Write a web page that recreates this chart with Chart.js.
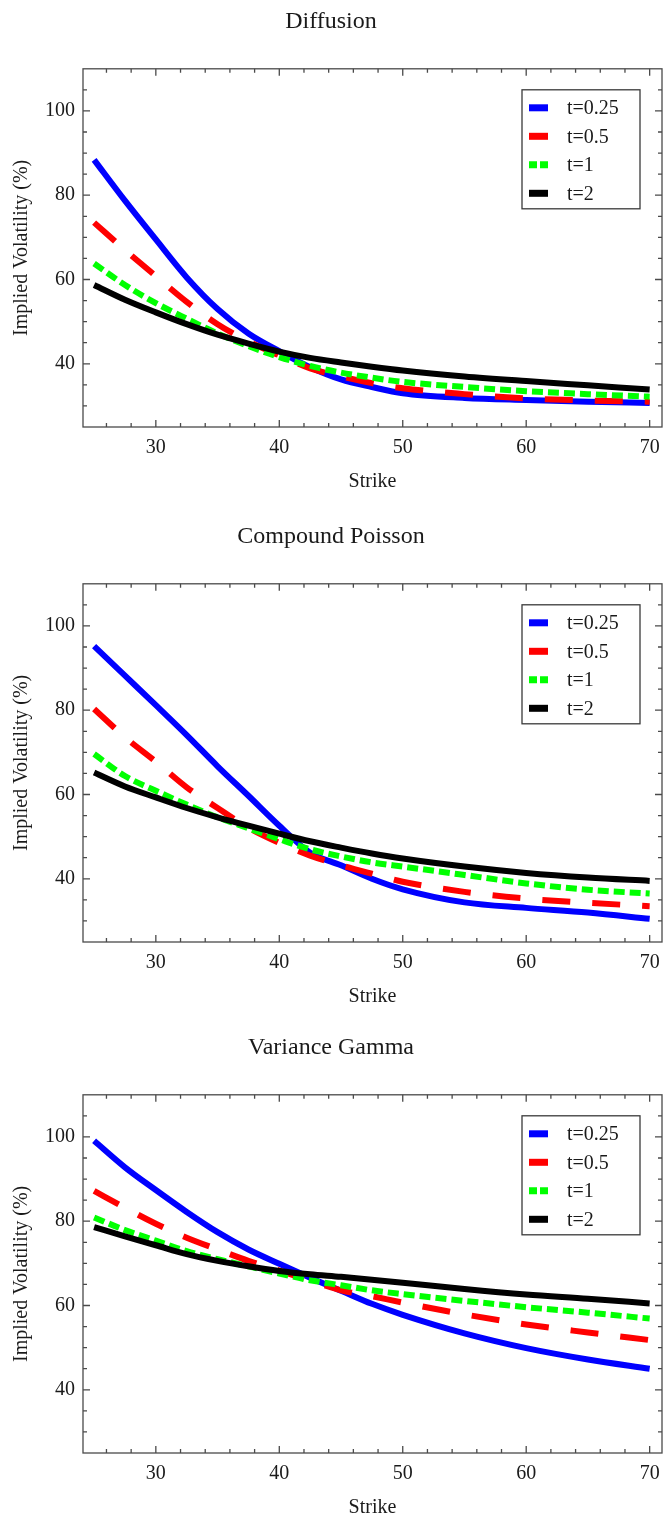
<!DOCTYPE html>
<html>
<head>
<meta charset="utf-8">
<title>Implied volatility smiles</title>
<script src="https://cdn.jsdelivr.net/npm/chart.js@4.4.1/dist/chart.umd.min.js"></script>
<style>
  html, body { margin: 0; padding: 0; background: #fff; overflow: hidden; }
  .panel { position: absolute; left: 0; width: 663px; height: 500px; }
</style>
</head>
<body>
<div class="panel" style="top:0px"><canvas id="diffusion" width="663" height="500"></canvas></div>
<div class="panel" style="top:515px"><canvas id="poisson" width="663" height="500"></canvas></div>
<div class="panel" style="top:1026px"><canvas id="gamma" width="663" height="500"></canvas></div>
<script>
// strikes and tick values
const strikes = [25, 27.5, 30, 32.5, 35, 37.5, 40, 42.5, 45, 47.5, 50, 55, 60, 65, 70];
const xTicks = [30, 40, 50, 60, 70];
const yTicks = [40, 60, 80, 100];
const seriesLabels = ['t=0.25', 't=0.5', 't=1', 't=2'];

// Diffusion
const diffusionT025 = [88.4, 78.7, 69.5, 60.5, 53.0, 47.2, 43.0, 39.2, 36.3, 34.5, 33.0, 31.9, 31.4, 31.0, 30.7];
const diffusionT05  = [73.5, 67.0, 60.8, 54.7, 49.4, 45.3, 42.0, 38.9, 37.0, 35.4, 34.2, 32.8, 31.8, 31.3, 31.0];
const diffusionT1   = [63.8, 58.7, 54.4, 50.7, 47.2, 44.2, 41.6, 39.5, 37.9, 36.7, 35.7, 34.5, 33.5, 32.8, 32.2];
const diffusionT2   = [58.7, 55.2, 52.2, 49.4, 46.9, 44.8, 42.9, 41.4, 40.3, 39.3, 38.4, 37.0, 35.9, 34.9, 33.9];

// Compound Poisson
const poissonT025 = [95.2, 88.2, 81.2, 74.1, 66.7, 59.7, 52.6, 46.2, 43.2, 40.0, 37.5, 34.4, 33.1, 32.0, 30.5];
const poissonT05  = [80.3, 73.6, 67.8, 61.7, 56.8, 52.1, 48.5, 45.5, 43.2, 41.2, 39.3, 36.9, 35.3, 34.3, 33.5];
const poissonT1   = [69.6, 64.4, 60.9, 57.6, 54.6, 52.0, 49.4, 47.0, 45.3, 43.9, 42.9, 40.9, 38.9, 37.4, 36.5];
const poissonT2   = [65.2, 61.9, 59.3, 56.8, 54.6, 52.6, 50.7, 48.9, 47.4, 46.0, 44.8, 42.9, 41.4, 40.3, 39.5];

// Variance Gamma
const gammaT025 = [99.1, 92.8, 87.4, 82.2, 77.4, 73.3, 69.9, 66.6, 63.5, 60.4, 57.8, 53.4, 49.9, 47.2, 45.0];
const gammaT05  = [87.2, 83.2, 79.4, 76.1, 73.3, 70.6, 68.3, 65.9, 63.6, 62.2, 60.7, 57.9, 55.5, 53.6, 51.8];
const gammaT1   = [80.9, 77.9, 75.4, 72.9, 71.0, 69.3, 67.6, 66.0, 64.8, 63.6, 62.7, 61.1, 59.6, 58.3, 56.9];
const gammaT2   = [78.6, 76.4, 74.3, 72.2, 70.6, 69.3, 68.2, 67.4, 66.8, 66.1, 65.4, 63.9, 62.6, 61.6, 60.5];

const FONT = "'Liberation Serif', 'Times New Roman', serif";
const TEXT = '#1a1a1a';
const lineStyles = [
    { color: '#0000ff', dash: [], legendDash: [] },
    { color: '#ff0000', dash: [28, 22], legendDash: [] },
    { color: '#00ff00', dash: [11, 5], legendDash: [8, 3] },
    { color: '#000000', dash: [], legendDash: [] }
];

// frame with inward ticks on all four sides
const framePlugin = {
    id: 'frame',
    afterDatasetsDraw(chart) {
        const { ctx, chartArea: a, scales: { x, y } } = chart;
        ctx.save();
        ctx.strokeStyle = '#4a4a4a';
        ctx.lineWidth = 1.3;
        ctx.strokeRect(a.left, a.top, a.right - a.left, a.bottom - a.top);
        ctx.beginPath();
        for (let v = 26; v <= 70; v += 2) {
            const px = x.getPixelForValue(v);
            const len = xTicks.includes(v) ? 7 : 4;
            ctx.moveTo(px, a.bottom); ctx.lineTo(px, a.bottom - len);
            ctx.moveTo(px, a.top); ctx.lineTo(px, a.top + len);
        }
        for (let v = 30; v <= 105; v += 5) {
            const py = y.getPixelForValue(v);
            const len = yTicks.includes(v) ? 7 : 4;
            ctx.moveTo(a.left, py); ctx.lineTo(a.left + len, py);
            ctx.moveTo(a.right, py); ctx.lineTo(a.right - len, py);
        }
        ctx.stroke();
        ctx.restore();
    }
};

// boxed legend in the upper right corner
const boxLegendPlugin = {
    id: 'boxLegend',
    afterDraw(chart) {
        const { ctx, chartArea: a } = chart;
        const left = a.right - 140, top = a.top + 21, w = 118, h = 119;
        ctx.save();
        ctx.fillStyle = '#fff';
        ctx.fillRect(left, top, w, h);
        ctx.strokeStyle = '#3a3a3a';
        ctx.lineWidth = 1.3;
        ctx.strokeRect(left, top, w, h);
        ctx.font = '20px ' + FONT;
        ctx.textBaseline = 'middle';
        chart.data.datasets.forEach((ds, i) => {
            const yy = top + 18 + i * 28.5;
            ctx.strokeStyle = ds.borderColor;
            ctx.lineWidth = 7;
            ctx.lineCap = 'butt';
            ctx.setLineDash(lineStyles[i].legendDash);
            ctx.beginPath();
            ctx.moveTo(left + 7, yy);
            ctx.lineTo(left + 26, yy);
            ctx.stroke();
            ctx.setLineDash([]);
            ctx.fillStyle = TEXT;
            ctx.fillText(ds.label, left + 45, yy + 1);
        });
        ctx.restore();
    }
};

function makeChart(id, title, seriesList) {
    const datasets = seriesList.map((vals, i) => ({
        label: seriesLabels[i],
        data: strikes.map((s, k) => ({ x: s, y: vals[k] })),
        borderColor: lineStyles[i].color,
        borderDash: lineStyles[i].dash,
        borderWidth: 6,
        borderCapStyle: 'butt',
        borderJoinStyle: 'round',
        pointRadius: 0,
        fill: false,
        cubicInterpolationMode: 'monotone',
        order: seriesList.length - i
    }));

    return new Chart(document.getElementById(id), {
        type: 'line',
        data: { datasets },
        plugins: [framePlugin, boxLegendPlugin],
        options: {
            responsive: false,
            animation: false,
            devicePixelRatio: 1,
            layout: { padding: { left: 0, right: 1, top: 0, bottom: 0 } },
            plugins: {
                legend: { display: false },
                tooltip: { enabled: false },
                title: {
                    display: true, text: title, color: TEXT,
                    font: { family: FONT, size: 24, weight: 'normal' },
                    padding: { top: 7, bottom: 33 }
                }
            },
            scales: {
                x: {
                    type: 'linear', min: 24.1, max: 71,
                    grid: { display: false, drawTicks: false },
                    border: { display: false },
                    afterBuildTicks: s => { s.ticks = xTicks.map(v => ({ value: v })); },
                    afterFit: s => { s.height = 73; s.paddingLeft = 0; s.paddingRight = 0; },
                    ticks: { padding: 9, color: TEXT, maxRotation: 0, autoSkip: false, font: { family: FONT, size: 20 } },
                    title: { display: true, text: 'Strike', color: TEXT, font: { family: FONT, size: 20 }, padding: { top: 0, bottom: 6 } }
                },
                y: {
                    type: 'linear', min: 25, max: 110,
                    grid: { display: false, drawTicks: false },
                    border: { display: false },
                    afterBuildTicks: s => { s.ticks = yTicks.map(v => ({ value: v })); },
                    afterFit: s => { s.width = 83; s.paddingTop = 0; s.paddingBottom = 0; },
                    ticks: { padding: 8, color: TEXT, font: { family: FONT, size: 20 } },
                    title: { display: true, text: 'Implied Volatility (%)', color: TEXT, font: { family: FONT, size: 20 }, padding: { top: 10, bottom: 0 } }
                }
            }
        }
    });
}

makeChart('diffusion', 'Diffusion', [diffusionT025, diffusionT05, diffusionT1, diffusionT2]);
makeChart('poisson', 'Compound Poisson', [poissonT025, poissonT05, poissonT1, poissonT2]);
makeChart('gamma', 'Variance Gamma', [gammaT025, gammaT05, gammaT1, gammaT2]);
</script>
</body>
</html>
